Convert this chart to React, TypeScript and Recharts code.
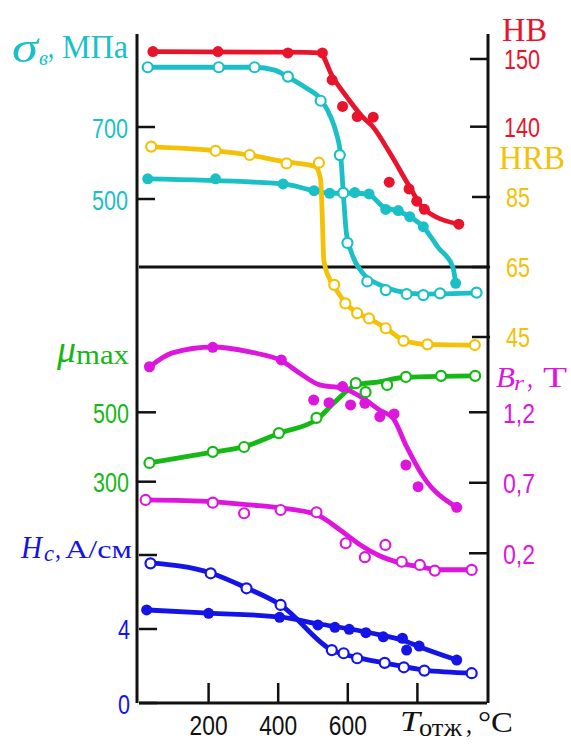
import React from "react";
import { ComposedChart, Line, Scatter, XAxis, YAxis, ReferenceLine } from "recharts";

// colours
const RED = "#e8142c";
const CYAN = "#1bc0c7";
const YEL = "#f3c106";
const GREEN = "#16b816";
const MAG = "#dd16dd";
const BLUE = "#1414e6";

// x = annealing temperature, °C
const xTicks = [200, 400, 600, 800];
const xLabels: Record<number, string> = { 200: "200", 400: "400", 600: "600", 800: "" };

// HB (red, filled)
const hbPts = [[40, 151.1], [227, 151.1], [428, 150.9], [527, 150.9], [555, 146.9], [585, 143.0], [627, 141.5], [673, 141.4], [719, 131.8], [776, 130.8], [798, 129.0], [820, 127.8], [919, 125.6]];
const hbCurve = [[40, 151.1], [427, 151.0], [519, 150.9], [557, 147.3], [597, 144.4], [643, 141.4], [672, 140.0], [721, 136.1], [778, 131.1], [816, 128.0], [919, 125.6]];

// sigma_b (cyan, open)
const sigOpenPts = [[25, 866], [229, 866], [332, 866], [428, 840], [522, 773], [577, 622], [587, 517], [599, 378], [656, 271], [709, 247], [769, 236], [817, 233], [865, 238], [970, 240]];
const sigOpenCurve = [[25, 866], [332, 866], [390, 858], [433, 836], [476, 811], [524, 775], [550, 730], [567, 683], [580, 617], [587, 517], [596, 405], [611, 350], [643, 294], [691, 262], [740, 245], [817, 236], [900, 237], [970, 239]];

// second cyan curve (filled)
const sigFillPts = [[25, 556], [220, 556], [414, 542], [503, 523], [548, 516], [620, 518], [661, 514], [709, 471], [745, 468], [778, 451], [817, 423], [910, 266]];
const sigFillCurve = [[25, 556], [414, 542], [503, 523], [548, 516], [620, 516], [661, 512], [700, 480], [745, 466], [778, 451], [816, 423], [860, 365], [902, 311], [910, 266]];

// HRB (yellow, open)
const hrbPts = [[35, 99.4], [220, 98.2], [318, 97.0], [424, 94.6], [517, 94.8], [561, 59.9], [593, 54.6], [627, 51.8], [661, 50.3], [709, 47.5], [760, 43.9], [829, 42.9], [965, 42.7]];
const hrbCurve = [[36, 99.3], [220, 98.2], [318, 97.0], [424, 95.0], [476, 94.4], [508, 93.6], [522, 89.9], [527, 78.4], [531, 67.0], [549, 61.3], [565, 58.7], [594, 54.7], [626, 51.9], [660, 50.3], [708, 47.6], [760, 44.1], [829, 42.9], [965, 42.7]];

// mu_max (green, open)
const muPts = [[30, 354], [212, 386], [302, 400], [402, 440], [510, 484], [623, 584], [651, 558], [713, 579], [767, 602], [868, 605], [966, 605]];
const muCurve = [[30, 354], [212, 385], [302, 401], [404, 440], [513, 481], [563, 530], [623, 578], [690, 588], [767, 601], [966, 605]];

// Br (magenta, filled)
const brFillPts = [[30, 1.523], [212, 1.661], [409, 1.571], [502, 1.287], [546, 1.268], [585, 1.382], [608, 1.252], [649, 1.264], [692, 1.169], [733, 1.188], [767, 0.826], [802, 0.672], [913, 0.526]];
const brFillCurve = [[30, 1.522], [96, 1.621], [211, 1.663], [318, 1.628], [410, 1.564], [462, 1.477], [519, 1.394], [586, 1.37], [644, 1.299], [691, 1.216], [730, 1.157], [769, 0.956], [817, 0.743], [913, 0.526]];

// second magenta curve (open)
const brOpenPts = [[19, 0.578], [212, 0.559], [302, 0.484], [407, 0.507], [510, 0.491], [594, 0.271], [649, 0.172], [708, 0.259], [755, 0.14], [807, 0.117], [850, 0.077], [956, 0.082]];
const brOpenCurve = [[19, 0.578], [212, 0.565], [318, 0.543], [407, 0.522], [511, 0.473], [577, 0.367], [635, 0.26], [691, 0.182], [749, 0.132], [807, 0.104], [865, 0.083], [957, 0.083]];

// Hc (blue)
const hcOpenPts = [[33, 7.55], [206, 7.01], [309, 6.2], [407, 5.3], [554, 2.86], [588, 2.69], [627, 2.42], [706, 2.17], [761, 1.93], [820, 1.75], [956, 1.61]];
const hcOpenCurve = [[33, 7.57], [206, 7.03], [309, 6.22], [407, 5.3], [554, 2.86], [635, 2.43], [706, 2.16], [819, 1.78], [957, 1.62]];
const hcFillPts = [[22, 5.03], [200, 4.85], [404, 4.63], [514, 4.22], [563, 4.09], [604, 3.98], [652, 3.8], [702, 3.58], [757, 3.5], [769, 2.86], [805, 3.08], [913, 2.32]];
const hcFillCurve = [[22, 5.03], [200, 4.86], [404, 4.65], [519, 4.27], [606, 4.0], [692, 3.68], [764, 3.35], [807, 3.03], [914, 2.32]];

// axis ticks and labels
const sigTicks = [700, 500];
const hbTicks = [150, 140];
const hrbTicks = [85, 65, 45];
const muTicks = [500, 300];
const brTicks = [1.2, 0.7, 0.2];
const hcTicks = [8, 4, 0];
const hcRightTicks = [4];
const hcLabels: Record<number, string> = { 8: "", 4: "4", 0: "0" };

const toXY = (a: number[][]) => a.map(([x, y]) => ({ x, y }));

const SANS = "'Liberation Sans', Arial, sans-serif";
const SERIF = "'Liberation Serif', 'Times New Roman', serif";

function Txt({ x, y, s, w, c, t, it, serif, anchor }: any) {
  return (
    <text x={x} y={y} fontSize={s} fill={c} fontStyle={it ? "italic" : "normal"}
      fontFamily={serif ? SERIF : SANS} textLength={w} lengthAdjust="spacingAndGlyphs"
      textAnchor={anchor || "start"}>{t}</text>
  );
}

const labW = (t: string) => t.replace(/,/g, "").length * 12 + (t.includes(",") ? 8 : 0);

function yTick(side: "left" | "right", color: string, fmt: (v: number) => string) {
  return (p: any) => {
    const v = p.payload.value;
    const t = fmt(v);
    const dir = side === "left" ? 1 : -1;
    return (
      <g>
        <line x1={p.x} x2={p.x + dir * 18} y1={p.y} y2={p.y} stroke="#111" strokeWidth={2.5} />
        {t && (
          <Txt x={side === "left" ? p.x - 9 : p.x + 16} y={p.y + 10.5} s={27} w={labW(t)} c={color} t={t}
            anchor={side === "left" ? "end" : "start"} />
        )}
      </g>
    );
  };
}

function xTick(p: any) {
  const t = xLabels[p.payload.value];
  return (
    <g>
      <line x1={p.x} x2={p.x} y1={p.y} y2={p.y - 20} stroke="#111" strokeWidth={2.5} />
      {t && <Txt x={p.x} y={p.y + 32} s={28} w={38} c="#111" t={t} anchor="middle" />}
    </g>
  );
}

const openDot = (color: string) => (p: any) => (
  <circle cx={p.cx} cy={p.cy} r={5} fill="#fff" stroke={color} strokeWidth={2.2} />
);
const fillDot = (color: string) => (p: any) => (
  <circle cx={p.cx} cy={p.cy} r={5.5} fill={color} />
);

const curves: [string, number[][], string][] = [
  ["hb", hbCurve, RED],
  ["sig", sigOpenCurve, CYAN],
  ["sig", sigFillCurve, CYAN],
  ["hrb", hrbCurve, YEL],
  ["mu", muCurve, GREEN],
  ["br", brFillCurve, MAG],
  ["br", brOpenCurve, MAG],
  ["hc", hcOpenCurve, BLUE],
  ["hc", hcFillCurve, BLUE],
];

const points: [string, number[][], string, boolean][] = [
  ["hb", hbPts, RED, true],
  ["sig", sigFillPts, CYAN, true],
  ["sig", sigOpenPts, CYAN, false],
  ["hrb", hrbPts, YEL, false],
  ["br", brFillPts, MAG, true],
  ["mu", muPts, GREEN, false],
  ["br", brOpenPts, MAG, false],
  ["hc", hcFillPts, BLUE, true],
  ["hc", hcOpenPts, BLUE, false],
];

const axisCommon = { width: 1, type: "number" as const, interval: 0 as const, tickSize: 0, tickMargin: 0, tickLine: false };

export default function App() {
  return (
    <div style={{ position: "relative", width: 571, height: 745 }}>
      <style>{"body{margin:0;background:#fff}"}</style>
      <ComposedChart width={571} height={745} margin={{ top: 34, left: 136, right: 80, bottom: 41 }}>
        <XAxis dataKey="x" type="number" domain={[0, 1000]} ticks={xTicks} interval={0} height={1}
          tickSize={0} tickMargin={0} tickLine={false} tick={xTick} axisLine={{ stroke: "#111", strokeWidth: 3 }} />
        <YAxis yAxisId="sig" orientation="left" {...axisCommon} domain={[-900.1, 958.4]} ticks={sigTicks}
          tick={yTick("left", CYAN, (v) => String(v))} axisLine={{ stroke: "#111", strokeWidth: 3 }} />
        <YAxis yAxisId="mu" orientation="left" {...axisCommon} domain={[-337.8, 1590.3]} ticks={muTicks}
          tick={yTick("left", GREEN, (v) => String(v))} axisLine={false} />
        <YAxis yAxisId="hc" orientation="left" {...axisCommon} domain={[0, 36.16]} ticks={hcTicks}
          tick={yTick("left", BLUE, (v) => hcLabels[v])} axisLine={false} />
        <YAxis yAxisId="hb" orientation="right" {...axisCommon} domain={[54.88, 153.69]} ticks={hbTicks}
          tick={yTick("right", RED, (v) => String(v))} axisLine={{ stroke: "#111", strokeWidth: 3 }} />
        <YAxis yAxisId="hrb" orientation="right" {...axisCommon} domain={[-59.57, 131.57]} ticks={hrbTicks}
          tick={yTick("right", YEL, (v) => String(v))} axisLine={false} />
        <YAxis yAxisId="br" orientation="right" {...axisCommon} domain={[-0.862, 3.883]} ticks={brTicks}
          tick={yTick("right", MAG, (v) => v.toFixed(1).replace(".", ","))} axisLine={false} />
        <YAxis yAxisId="hcR" orientation="right" {...axisCommon} domain={[0, 36.16]} ticks={hcRightTicks}
          tick={yTick("right", BLUE, () => "")} axisLine={false} />
        <ReferenceLine yAxisId="hrb" y={65} stroke="#111" strokeWidth={3} />
        {curves.map(([ax, d, c], i) => (
          <Line key={"l" + i} yAxisId={ax} data={toXY(d)} dataKey="y" type="monotone" stroke={c} strokeWidth={4.8}
            dot={false} activeDot={false} isAnimationActive={false} />
        ))}
        {points.map(([ax, d, c, filled], i) => (
          <Scatter key={"s" + i} yAxisId={ax} data={toXY(d)} dataKey="y" fill={c}
            shape={filled ? fillDot(c) : openDot(c)} isAnimationActive={false} />
        ))}
      </ComposedChart>
      <svg width={571} height={745} style={{ position: "absolute", left: 0, top: 0, pointerEvents: "none" }}>
        {/* left titles */}
        <Txt x={12} y={62} s={44} w={26} c={CYAN} t="σ" it serif />
        <Txt x={39} y={65} s={21} w={9} c={CYAN} t="в" it serif />
        <Txt x={48} y={58} s={33} w={6} c={CYAN} t="," serif />
        <Txt x={62} y={58} s={34} w={66} c={CYAN} t="МПа" serif />
        <Txt x={57} y={362} s={38} w={19} c={GREEN} t="μ" it serif />
        <Txt x={76} y={364} s={28} w={53} c={GREEN} t="max" serif />
        <Txt x={21} y={558} s={32} w={21} c={BLUE} t="H" it serif />
        <Txt x={44} y={561} s={24} w={10} c={BLUE} t="c" it serif />
        <Txt x={55} y={558} s={28} w={6} c={BLUE} t="," serif />
        <Txt x={65} y={558} s={25} w={67} c={BLUE} t="А/см" serif />
        {/* right titles */}
        <Txt x={502} y={41} s={33} w={45} c={RED} t="HB" serif />
        <Txt x={499} y={169} s={34} w={66} c={YEL} t="HRB" serif />
        <Txt x={496} y={387} s={30} w={19} c={MAG} t="B" it serif />
        <Txt x={514} y={390} s={22} w={10} c={MAG} t="r" it serif />
        <Txt x={527} y={387} s={30} w={6} c={MAG} t="," serif />
        <Txt x={543} y={387} s={30} w={24} c={MAG} t="T" serif />
        {/* x title */}
        <Txt x={400} y={731} s={29} w={20} c="#111" t="T" it serif />
        <Txt x={419} y={736} s={26} w={43} c="#111" t="отж" serif />
        <Txt x={466} y={733} s={28} w={6} c="#111" t="," serif />
        <Txt x={478} y={732} s={30} w={35} c="#111" t="°C" serif />
      </svg>
    </div>
  );
}
